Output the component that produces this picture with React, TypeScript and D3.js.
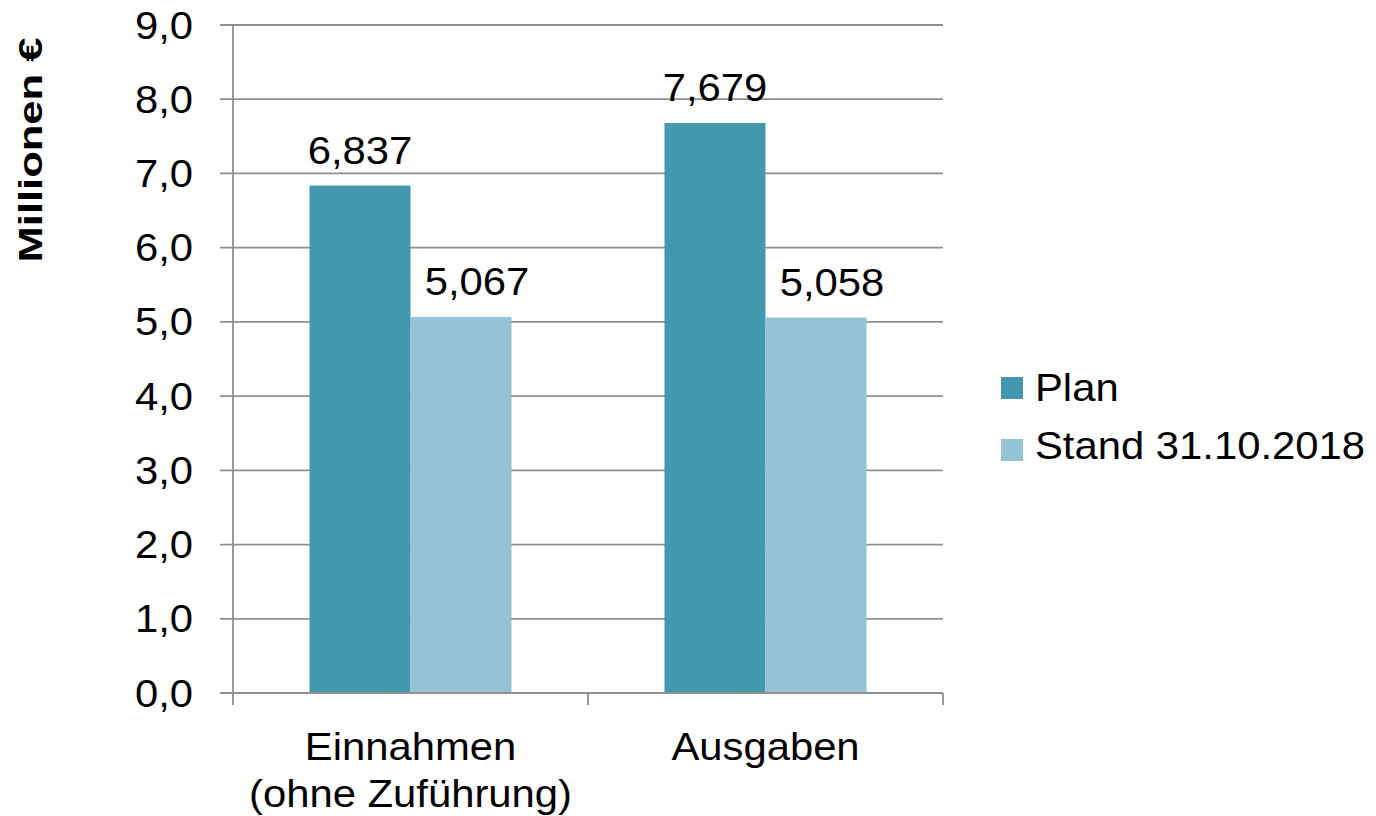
import React, { useRef, useEffect } from "react";
import * as d3 from "d3";

// Chart data
const categories = ["Einnahmen\n(ohne Zuführung)", "Ausgaben"];
const seriesNames = ["Plan", "Stand 31.10.2018"];
const planValues = [6.837, 7.679];
const standValues = [5.067, 5.058];
const valueLabels = [["6,837", "7,679"], ["5,067", "5,058"]];
const yTicks = [0, 1, 2, 3, 4, 5, 6, 7, 8, 9];
const colors = ["#4398b0", "#93c3d4"];

const FONT = "'Liberation Sans', Arial, sans-serif";
const SX = 1.1; // horizontal stretch of the source image text

export default function App() {
    const svgRef = useRef<SVGSVGElement>(null);

    useEffect(() => {
        if (!svgRef.current) return;
        document.body.style.margin = "0";
        const svg = d3.select(svgRef.current);
        svg.selectAll("*").remove();

        const left = 233, right = 943, top = 25, bottom = 693;
        const gridColor = "#8f8f8f";

        const x0 = d3.scaleBand<number>()
            .domain(categories.map((_, i) => i))
            .range([left, right])
            .paddingInner(0)
            .paddingOuter(0);
        const x1 = d3.scaleBand<number>()
            .domain(seriesNames.map((_, i) => i))
            .range([0, x0.bandwidth()])
            .paddingInner(0)
            .paddingOuter(0.757);
        const y = d3.scaleLinear().domain([0, 9]).range([bottom, top]);

        const addText = (x: number, yy: number, txt: string, size: number, anchor: string, weight = "normal") =>
            svg.append("text")
                .attr("transform", `translate(${x},${yy}) scale(${SX},1)`)
                .attr("text-anchor", anchor)
                .attr("font-family", FONT)
                .attr("font-size", size)
                .attr("font-weight", weight)
                .attr("fill", "#000")
                .text(txt);

        // Gridlines + y ticks
        yTicks.forEach(t => {
            svg.append("line")
                .attr("x1", left - 13).attr("x2", right)
                .attr("y1", y(t)).attr("y2", y(t))
                .attr("stroke", gridColor).attr("stroke-width", 1.8);
            addText(left - 40, y(t) + 13.5, d3.format(".1f")(t).replace(".", ","), 38, "end");
        });

        // Y axis line
        svg.append("line")
            .attr("x1", left).attr("x2", left)
            .attr("y1", top).attr("y2", bottom)
            .attr("stroke", gridColor).attr("stroke-width", 1.8);

        // Bars
        const series = [planValues, standValues];
        series.forEach((vals, s) => {
            vals.forEach((v, c) => {
                const bx = (x0(c) as number) + (x1(s) as number);
                svg.append("rect")
                    .attr("x", bx)
                    .attr("y", y(v))
                    .attr("width", x1.bandwidth())
                    .attr("height", y(0) - y(v))
                    .attr("fill", colors[s]);
                // second-series labels sit a little to the right of the bar centre
                addText(bx + x1.bandwidth() / 2 + (s === 1 ? 16 : 0), y(v) - 22, valueLabels[s][c], 38, "middle");
            });
        });

        // X axis line + ticks
        svg.append("line")
            .attr("x1", left).attr("x2", right)
            .attr("y1", bottom).attr("y2", bottom)
            .attr("stroke", gridColor).attr("stroke-width", 1.8);
        const xTickPos = [left, ...categories.map((_, i) => (x0(i) as number) + x0.bandwidth())];
        xTickPos.forEach(p => {
            svg.append("line")
                .attr("x1", p).attr("x2", p)
                .attr("y1", bottom).attr("y2", bottom + 12)
                .attr("stroke", gridColor).attr("stroke-width", 1.8);
        });

        // Category labels
        categories.forEach((cat, i) => {
            const cx = (x0(i) as number) + x0.bandwidth() / 2;
            cat.split("\n").forEach((line, j) => {
                addText(cx, 760 + j * 46.5, line, 38, "middle");
            });
        });

        // Y axis title
        svg.append("text")
            .attr("transform", `translate(42,150) rotate(-90) scale(1.28,1)`)
            .attr("text-anchor", "middle")
            .attr("font-family", FONT)
            .attr("font-size", 34)
            .attr("font-weight", "bold")
            .text("Millionen €");

        // Legend
        seriesNames.forEach((name, i) => {
            svg.append("rect")
                .attr("x", 1001).attr("y", 377 + i * 62)
                .attr("width", 22).attr("height", 22)
                .attr("fill", colors[i]);
            addText(1035, 401 + i * 58, name, 38, "start");
        });
    }, []);

    return (
        <svg ref={svgRef} width={1376} height={816}
            style={{ display: "block", background: "#fff" }} />
    );
}
